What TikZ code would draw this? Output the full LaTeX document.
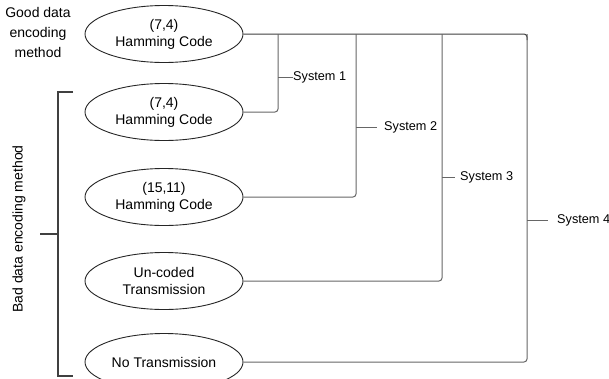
\documentclass[tikz,border=0pt]{standalone}
\usepackage{fontspec}
\setmainfont{Liberation Sans}
\usetikzlibrary{shapes.geometric}
\begin{document}
\begin{tikzpicture}[x=1pt,y=-1pt,
  ell/.style={draw=black!85,line width=0.9pt,ellipse,minimum width=158pt,minimum height=57pt,inner sep=0pt,align=center,font=\fontsize{14}{17}\selectfont},
  conn/.style={draw=black!60,line width=1pt,rounded corners=3pt},
  lab/.style={anchor=west,inner sep=0pt,font=\fontsize{12.7}{15}\selectfont},
  brk/.style={draw=black!75,line width=1.2pt}]
\useasboundingbox (0,0) rectangle (609,378);
\fill[white] (0,0) rectangle (609,378);
% ellipses
\node[ell] (e1) at (164,34) {(7,4)\\Hamming Code};
\node[ell] (e2) at (164,112) {(7,4)\\Hamming Code};
\node[ell] (e3) at (164,197) {(15,11)\\Hamming Code};
\node[ell] (e4) at (164,281) {Un-coded\\Transmission};
\node[ell] (e5) at (164,362) {No Transmission};
% left labels
\node[align=center,font=\fontsize{14}{20}\selectfont] (good) at (38,32) {Good data\\encoding\\method};
\node[rotate=90,font=\fontsize{14}{16}\selectfont] (bad) at (19,229) {Bad data encoding method};
% bracket
\coordinate (bt) at (73,92);
\coordinate (bb) at (73,376);
\coordinate (bm) at (58,234);
\coordinate (bmt) at (40,234);
\draw[brk] (bt) -- (58,92) -- (58,376) -- (bb);
\draw[brk] (bmt) -- (bm);
% junction coordinates
\coordinate (j1) at (278,34);
\coordinate (j2) at (356,34);
\coordinate (j3) at (442,34);
\coordinate (j4) at (527,34);
% top line
\draw[conn,draw=black!75] (e1.east) -- (j4) -- (527,40);
% branches
\draw[conn] (e2.east) -| (j1);
\draw[conn] (e3.east) -| (j2);
\draw[conn] (e4.east) -| (j3);
\draw[conn] (e5.east) -| (j4);
% system labels
\node[lab] (s1) at (293,77) {System 1};
\draw[conn] (278,77) -- (s1.west);
\node[lab] (s2) at (384,127) {System 2};
\coordinate (s2e) at (377,127);
\draw[conn] (356,127) -- (s2e);
\node[lab] (s3) at (460,177) {System 3};
\coordinate (s3e) at (455,177);
\draw[conn] (442,177) -- (s3e);
\node[lab] (s4) at (557,220) {System 4};
\coordinate (s4e) at (548,220);
\draw[conn] (527,220) -- (s4e);
\end{tikzpicture}
\end{document}
